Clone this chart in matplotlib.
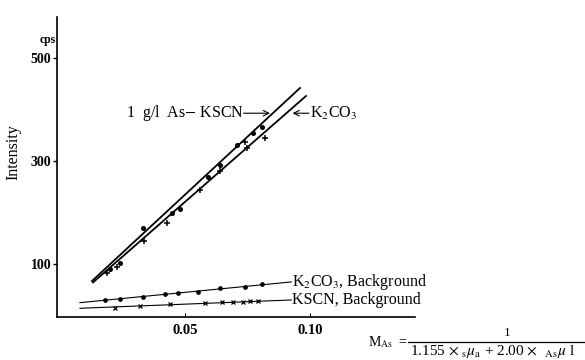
import matplotlib
matplotlib.use("Agg")
import matplotlib.pyplot as plt

plt.rcParams['font.family'] = ['Liberation Serif', 'DejaVu Serif']
plt.rcParams['mathtext.fontset'] = 'stix'

# measured intensities, 1 g/l As
kscn_x = [0.0200, 0.0240, 0.0333, 0.0449, 0.0480, 0.0593, 0.0640, 0.0707, 0.0773, 0.0807]
kscn_y = [90.5, 103.3, 170.0, 200.2, 206.8, 268.8, 292.6, 331.4, 354.0, 366.9]
k2co3_x = [0.0187, 0.0227, 0.0337, 0.0427, 0.0560, 0.0640, 0.0740, 0.0747, 0.0820]
k2co3_y = [82.8, 94.4, 145.3, 180.8, 244.2, 281.6, 337.8, 325.0, 344.4]

# fitted lines
kscn_fit_x = [0.0128, 0.0960]
kscn_fit_y = [67.8, 441.9]
k2co3_fit_x = [0.0132, 0.0984]
k2co3_fit_y = [65.0, 426.4]

# backgrounds
bg_k2co3_x = [0.0180, 0.0240, 0.0332, 0.0420, 0.0472, 0.0552, 0.0640, 0.0740, 0.0808]
bg_k2co3_y = [31.0, 33.0, 36.8, 42.0, 44.0, 47.1, 53.7, 56.8, 61.4]
bg_kscn_x = [0.0220, 0.0320, 0.0440, 0.0580, 0.0648, 0.0692, 0.0732, 0.0760, 0.0792]
bg_kscn_y = [16.1, 19.4, 22.7, 25.8, 26.6, 27.1, 27.7, 28.5, 29.1]
bg_k2co3_fit_x = [0.0080, 0.0925]
bg_k2co3_fit_y = [25.8, 66.0]
bg_kscn_fit_x = [0.0080, 0.0925]
bg_kscn_fit_y = [14.9, 31.0]

y_ticks = [100, 300, 500]
x_ticks = [0.05, 0.10]
x_labels = ['0.05', '0.10']

fig = plt.figure(figsize=(5.85, 3.6), dpi=100)
ax = fig.add_axes([57 / 585, 43 / 360, 358 / 585, 300 / 360])
ax.set_xlim(-0.0012, 0.1420)
ax.set_ylim(-2, 579.5)

for s in ['top', 'right']:
    ax.spines[s].set_visible(False)
for s in ['left', 'bottom']:
    ax.spines[s].set_linewidth(1.2)

ax.plot(kscn_fit_x, kscn_fit_y, 'k-', lw=1.3)
ax.plot(k2co3_fit_x, k2co3_fit_y, 'k-', lw=1.3)
ax.plot(kscn_x, kscn_y, 'ko', ms=2.6)
ax.plot(k2co3_x, k2co3_y, 'k+', ms=4, mew=1.1)

ax.plot(bg_k2co3_fit_x, bg_k2co3_fit_y, 'k-', lw=0.8)
ax.plot(bg_kscn_fit_x, bg_kscn_fit_y, 'k-', lw=0.8)
ax.plot(bg_k2co3_x, bg_k2co3_y, 'ko', ms=2.4)
ax.plot(bg_kscn_x, bg_kscn_y, 'kx', ms=2.6, mew=0.9)

ax.set_yticks(y_ticks)
ax.set_yticklabels([str(v) for v in y_ticks], fontsize=10, fontweight='bold')
ax.set_xticks(x_ticks)
ax.set_xticklabels(x_labels, fontsize=10.5, fontweight='bold')
ax.tick_params(axis='y', direction='out', length=3, width=1, pad=1)
ax.tick_params(axis='x', direction='in', length=3, width=0.8, pad=5)

ax.text(-0.0015, 535, 'cps', ha='right', va='center', fontsize=8.5, fontweight='bold')
fig.text(13 / 585, 1 - 152 / 360, 'Intensity', rotation=90, ha='center', va='center', fontsize=11.5)

# curve labels
ax.text(0.0736, 393, '1  g/l  As$-$ KSCN', ha='right', va='center', fontsize=11.5)
ax.annotate('', xy=(0.0840, 393), xytext=(0.0734, 393),
            arrowprops=dict(arrowstyle='->', lw=0.8, color='k', shrinkA=0, shrinkB=0))
ax.annotate('', xy=(0.0930, 393), xytext=(0.0996, 393),
            arrowprops=dict(arrowstyle='->', lw=0.8, color='k', shrinkA=0, shrinkB=0))
ax.text(0.0998, 393, 'K$_2$CO$_3$', ha='left', va='center', fontsize=11.5)

ax.text(0.0928, 66, 'K$_2$CO$_3$, Background', ha='left', va='center', fontsize=11.5)
ax.text(0.0928, 31, 'KSCN, Background', ha='left', va='center', fontsize=11.5)

# abscissa definition
fig.text(368 / 585, 1 - 342 / 360, r'M$_{\rm As}$  =', ha='left', va='center', fontsize=10)
fig.text(507 / 585, 1 - 333 / 360, '1', ha='center', va='center', fontsize=9.5)
fig.add_artist(plt.Line2D([408 / 585, 585 / 585], [1 - 342 / 360, 1 - 342 / 360],
                          color='k', lw=0.9))
fig.text(410 / 585, 1 - 352 / 360,
         r'1.155 $\times$ $_{\rm s}\mu_{\rm a}$ + 2.00 $\times$  $_{\rm As}\mu$ l',
         ha='left', va='center', fontsize=11)

fig.savefig('out.png', dpi=100)
